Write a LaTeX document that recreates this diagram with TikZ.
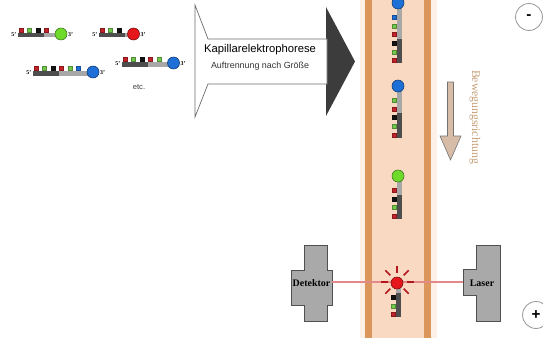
\documentclass[tikz,border=0pt]{standalone}
\usepackage{fontspec}
\setmainfont{Liberation Serif}
\setsansfont{Liberation Sans}
\definecolor{dnared}{HTML}{C4222A}
\definecolor{dnagreen}{HTML}{72C84A}
\definecolor{dnablack}{HTML}{141414}
\definecolor{dnablue}{HTML}{1E6FD6}
\definecolor{balllime}{HTML}{6EDB2A}
\definecolor{ballred}{HTML}{E5161C}
\definecolor{bardark}{HTML}{4E4E4E}
\definecolor{barlight}{HTML}{A8A8A8}
\definecolor{capwall}{HTML}{DB965C}
\definecolor{capfill}{HTML}{F9D9C2}
\definecolor{caphalo}{HTML}{FDF0E6}
\definecolor{devgray}{HTML}{A9A9A9}
\definecolor{devedge}{HTML}{505050}
\definecolor{beamcol}{HTML}{E3898A}
\definecolor{raycol}{HTML}{B3161C}
\definecolor{headgray}{HTML}{3C3C3C}
\definecolor{dirfill}{HTML}{D7BCA8}
\definecolor{dirtext}{HTML}{C69F76}
\tikzset{
  primelab/.style={font=\fontsize{5}{5}\selectfont\bfseries, inner sep=0.4pt},
  devlabel/.style={font=\fontsize{8.5}{9}\selectfont\bfseries, inner sep=0pt},
  devbody/.style={fill=devgray, draw=devedge, line width=0.6pt},
  pole/.style={circle, draw=gray!80, fill=white, line width=0.7pt, minimum size=23pt, inner sep=0pt, font=\sffamily\bfseries\fontsize{13}{13}\selectfont},
  beam/.style={draw=beamcol, line width=1.8pt},
  ray/.style={draw=raycol, line width=1.4pt},
  squarebox/.style={line width=0.2pt},
}
% horizontal labelled fragment: name, x of 5' end, bar top, number of bases, colours 5'->3', dye colour
\newcommand\hstrand[6]{%
  \fill[bardark] (#2,#3) rectangle ({#2+3*8.5},{#3+4.5});
  \fill[barlight] ({#2+3*8.5},#3) rectangle ({#2+#4*8.5+5},{#3+4.5});
  \foreach \c [count=\i from 0] in {#5}
    \filldraw[squarebox, fill=\c, draw=\c!70!black] ({#2+1+\i*8.5},{#3-0.5}) rectangle ({#2+5+\i*8.5},{#3-4.6});
  \filldraw[fill=#6, draw=#6!55!black, line width=0.5pt] ({#2+#4*8.5+9},{#3+1}) circle[radius=6];
  \node[primelab, anchor=east] (#1-5) at ({#2-1},{#3+2}) {5'};
  \node[primelab, anchor=west] (#1-3) at ({#2+#4*8.5+15.5},{#3+2}) {3'};
}
% vertical fragment inside the capillary: x of dye, y of dye, number of bases, colours 5'->3', dye colour
\newcommand\vstrand[5]{%
  \pgfmathsetmacro\vbot{#2+12+(#3-1)*8.7+4.8}
  \pgfmathsetmacro\vmid{#2+12+(#3-3)*8.7-2}
  \fill[barlight] ({#1-1},#2) rectangle ({#1+4},\vmid);
  \fill[bardark] ({#1-1},\vmid) rectangle ({#1+4},\vbot);
  \foreach \c [count=\i from 1] in {#4}
    \filldraw[squarebox, fill=\c, draw=\c!70!black] ({#1-5.6},{#2+12+(#3-\i)*8.7}) rectangle ({#1-1.6},{#2+12+(#3-\i)*8.7+4});
  \filldraw[fill=#5, draw=#5!55!black, line width=0.5pt] (#1,#2) circle[radius=6];
}
\begin{document}
\begin{tikzpicture}[x=0.03cm, y=-0.03cm]
\useasboundingbox (0,0) rectangle (543,338);
\fill[white] (0,0) rectangle (543,338);

% capillary
\fill[caphalo] (360,0) rectangle (437,338);
\fill[capfill] (365,0) rectangle (431,338);
\fill[capwall] (365,0) rectangle (372,338);
\fill[capwall] (424,0) rectangle (431,338);

% separation arrow
\fill[headgray] (326,7) -- (355,61.5) -- (326,116) -- cycle;
\draw[fill=white, draw=gray!85!black, line width=0.6pt]
  (195,5) -- (208,39) -- (327,39) -- (327,84) -- (208,84) -- (195,117) -- cycle;
\node[font=\sffamily\fontsize{9.6}{10}\selectfont, inner sep=0pt] (ce-title) at (260,50) {Kapillarelektrophorese};
\node[font=\sffamily\fontsize{7.6}{8}\selectfont, inner sep=0pt, text=black!80] (ce-sub) at (260,66) {Auftrennung nach Größe};

% labelled fragments before separation
\hstrand{fa}{18}{33}{4}{dnared,dnagreen,dnablack,dnared}{balllime}
\hstrand{fb}{99}{33}{3}{dnared,dnagreen,dnablack}{ballred}
\hstrand{fc}{33}{71}{6}{dnared,dnagreen,dnablack,dnared,dnagreen,dnablue}{dnablue}
\hstrand{fd}{122}{62}{5}{dnared,dnagreen,dnablack,dnared,dnagreen}{dnablue}
\node[font=\sffamily\fontsize{6.5}{7}\selectfont, text=black!75, inner sep=0pt] (etc) at (139,87) {etc.};

% fragments migrating in the capillary
\vstrand{398}{3}{6}{dnared,dnagreen,dnablack,dnared,dnagreen,dnablue}{dnablue}
\vstrand{398}{86}{5}{dnared,dnagreen,dnablack,dnared,dnagreen}{dnablue}
\vstrand{398}{176}{4}{dnared,dnagreen,dnablack,dnared}{balllime}

% detector and laser
\draw[devbody] (304,245) -- (327,245) -- (327,270) -- (332,270) -- (332,305) -- (327,305)
  -- (327,321) -- (304,321) -- (304,305) -- (291,305) -- (291,270) -- (304,270) -- cycle;
\draw[devbody] (476,245) -- (500,245) -- (500,321) -- (476,321) -- (476,295) -- (463,295)
  -- (463,269) -- (476,269) -- cycle;
\node[devlabel] (det) at (311.5,283) {Detektor};
\node[devlabel] (las) at (482,283) {Laser};
\coordinate (det-out) at (332,282);
\coordinate (las-in) at (463,282);
\draw[beam] (det-out) -- (las-in);

% fragment passing the laser, dye glowing
\foreach \a in {0,45,135,180,225,270,315}
  \draw[ray] (397,282) ++(\a:9.5) -- ++(\a:7);
\vstrand{397}{283}{3}{dnared,dnagreen,dnablack}{ballred}

% direction of migration
\draw[fill=dirfill, draw=gray!90!black, line width=0.5pt]
  (447.5,82) -- (453.5,82) -- (453.5,136) -- (461,136) -- (450.5,160) -- (440,136) -- (447.5,136) -- cycle;
\node[rotate=-90, font=\fontsize{10}{10}\selectfont, text=dirtext, inner sep=0pt] (dir) at (475,117) {Bewegungsrichtung};

% electrodes
\node[pole] (minus) at (529,17) {\raisebox{0.5pt}{-}};
\node[pole] (plus) at (536,315) {+};
\end{tikzpicture}
\end{document}
